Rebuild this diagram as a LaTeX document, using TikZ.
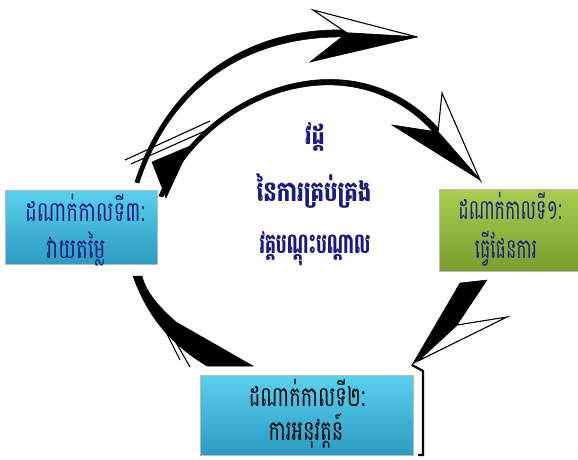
\documentclass[tikz,border=0pt]{standalone}
\usepackage{fontspec}
\newfontfamily\khmer[Script=Khmer]{Battambang}
\newcommand\kx[3]{\scalebox{#1}[#2]{#3}}
\definecolor{navy}{HTML}{1C1C80}
\definecolor{cyanT}{HTML}{5AD0EE}
\definecolor{cyanB}{HTML}{2A9CC2}
\definecolor{greenT}{HTML}{AACD50}
\definecolor{greenB}{HTML}{7C9D2E}
\begin{document}
\begin{tikzpicture}[x=1pt,y=-1pt,
  stagebox/.style={draw=gray!55, line width=0.6pt, inner sep=0pt},
  bluebox/.style={stagebox, top color=cyanT, bottom color=cyanB},
  greenbox/.style={stagebox, top color=greenT, bottom color=greenB},
  boxtext/.style={inner sep=0pt, font=\khmer\fontsize{15}{15}\selectfont},
  centertext/.style={inner sep=0pt, font=\khmer\bfseries\fontsize{16}{16}\selectfont, text=navy},
  barbopen/.style={fill=white, draw=black, line width=1.1pt, line join=miter},
  barbfill/.style={fill=black, draw=black, line width=0.6pt},
  body/.style={fill=black, draw=black, line width=0.5pt}]
\useasboundingbox (0,0) rectangle (578,460);

% stage boxes
\node[bluebox, minimum width=152pt, minimum height=74pt] (s3) at (81,227) {};
\node[greenbox, minimum width=139pt, minimum height=82pt] (s1) at (508.5,230) {};
\node[bluebox, minimum width=213pt, minimum height=80pt] (s2) at (306.5,415) {};

\node[boxtext, text=navy] (s3a) at (85,208) {\kx{1.32}{1.85}{ដណាក់កាលទី៣:}};
\node[boxtext, text=navy] (s3b) at (76,249) {\kx{1.32}{1.85}{វាយតម្លៃ}};
\node[boxtext, text=navy] (s1a) at (510,206) {\kx{1.16}{1.85}{ដណាក់កាលទី១:}};
\node[boxtext, text=navy] (s1b) at (506,249) {\kx{1.16}{1.85}{ធ្វើផែនការ}};
\node[boxtext, text=black] (s2a) at (307,393) {\kx{1.29}{1.85}{ដណាក់កាលទី២:}};
\node[boxtext, text=black] (s2b) at (306,431) {\kx{1.29}{1.85}{ការអនុវត្តន៍}};

% centre title
\node[centertext] (t1) at (315,137) {\kx{1.3}{1.75}{វដ្ដ}};
\node[centertext] (t2) at (314,191) {\kx{1.33}{1.75}{នៃការគ្រប់គ្រង}};
\node[centertext] (t3) at (315,249) {\kx{1.07}{1.75}{វគ្គបណ្តុះបណ្តាល}};

% outer top arc (towards stage 1)
\coordinate (aTip) at (417,37);
\coordinate (aNotch) at (347,33);
\path[body] (135,182) .. controls (168,79) and (250,27) .. (347,30)
   -- (347,37) .. controls (250,35) and (172,83) .. (139,183) -- cycle;
\path[barbopen] (aNotch) -- (313,10) -- (aTip) -- cycle;
\path[barbfill] (aNotch) -- (310,62) -- (aTip) -- cycle;

% inner top arc (towards stage 1)
\coordinate (bTip) at (480,180);
\coordinate (bNotch) at (438,132);
\path[body] (159,196) .. controls (199,94) and (350,29) .. (440,130)
   -- (436,135) .. controls (350,36) and (203,98) .. (163,197) -- cycle;
\path[barbopen] (bNotch) -- (442,93) -- (bTip) -- cycle;
\path[barbfill] (bNotch) -- (392,125) -- (bTip) -- cycle;

% feathered end near stage 3
\path[body] (152,162) -- (190,146) -- (166,198) -- cycle;
\draw[line width=1.1pt] (125,160) -- (210,121);
\draw[line width=1.1pt] (131,164) -- (205,131);

% stage 1 -> stage 2
\coordinate (cTip) at (412,365);
\path[body] (460,283) -- (487,280) -- (457,325) -- (cTip) -- cycle;
\path[barbopen] (457,325) -- (507,317) -- (418,361) -- cycle;
\draw[line width=2.2pt, line join=miter] (cTip) -- (423,371) -- (423,455) -- (418,455);

% stage 2 -> stage 3
\path[body] (133,276) .. controls (148,318) and (172,345) .. (207,366)
   -- (253,366) -- (176,322) .. controls (158,306) and (146,292) .. (142,276) -- cycle;
\draw[line width=1.1pt] (166,325) -- (190,367);
\draw[line width=1.1pt] (159,318) -- (180,360);
\end{tikzpicture}
\end{document}
